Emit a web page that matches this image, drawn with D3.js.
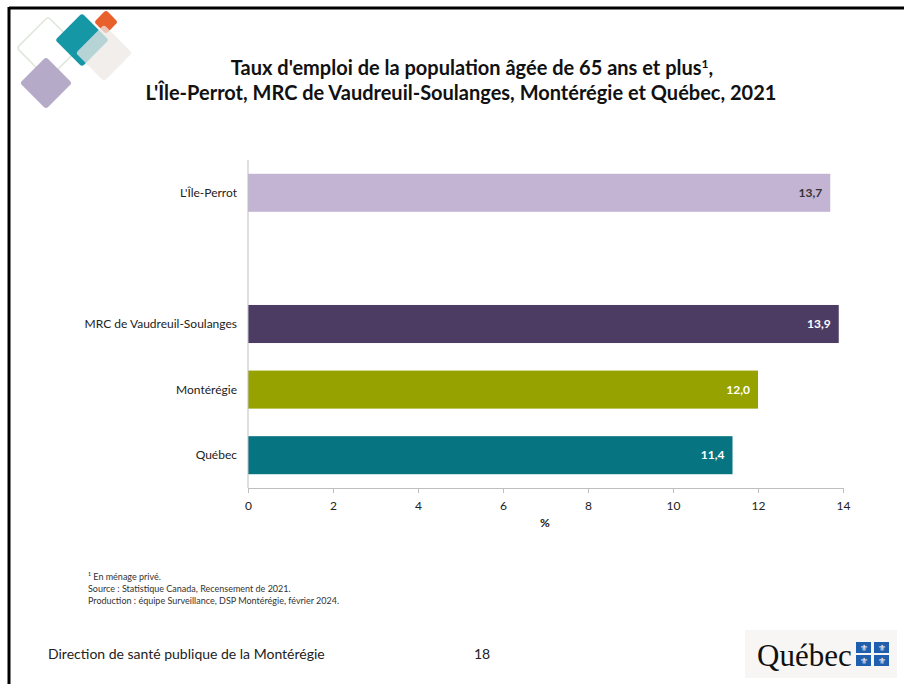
<!DOCTYPE html>
<html><head><meta charset="utf-8">
<script src="https://cdn.jsdelivr.net/npm/d3@7"></script>
<style>
body{margin:0;background:#fff;}
svg{display:block;font-family:Lato,"Open Sans",sans-serif;}
</style></head>
<body><svg id="c" width="904" height="684"></svg>
<script>
const categories = ["L'Île-Perrot", "", "MRC de Vaudreuil-Soulanges", "Montérégie", "Québec"];
const values = [13.7, null, 13.9, 12.0, 11.4];
const valueLabels = ["13,7", "", "13,9", "12,0", "11,4"];
const barColors = ["#c3b4d4", "none", "#4c3c64", "#95a200", "#077482"];
const labelColors = ["#333333", "none", "#ffffff", "#ffffff", "#ffffff"];
const xTicks = [0, 2, 4, 6, 8, 10, 12, 14];
const titleLines = ["Taux d'emploi de la population âgée de 65 ans et plus", "L'Île-Perrot, MRC de Vaudreuil-Soulanges, Montérégie et Québec, 2021"];
const footnotes = ["¹ En ménage privé.", "Source : Statistique Canada, Recensement de 2021.", "Production : équipe Surveillance, DSP Montérégie, février 2024."];

const svg = d3.select("#c");

// slide frame
svg.append("line").attr("x1",9).attr("x2",904).attr("y1",8).attr("y2",8).attr("stroke","#000").attr("stroke-width",3);
svg.append("line").attr("x1",9).attr("x2",9).attr("y1",7).attr("y2",684).attr("stroke","#000").attr("stroke-width",3);

// decorative diamonds
const deco = svg.append("g");
function diamond(cx, cy, s, fill, opacity, stroke) {
  deco.append("rect").attr("x",-s/2).attr("y",-s/2).attr("width",s).attr("height",s).attr("rx",3)
    .attr("transform",`translate(${cx},${cy}) rotate(45)`)
    .attr("fill",fill).attr("fill-opacity",opacity).attr("stroke",stroke||"none").attr("stroke-width",1.5);
}
diamond(48, 48, 44, "none", 1, "#dfe6dc");
diamond(106, 22, 17, "#e8602c", 1);
diamond(82, 40, 38, "#1697a6", 1);
diamond(104, 53, 40, "#ece8e6", 0.75);
diamond(46, 83, 37, "#b5aac8", 1);

// title
const title = svg.append("text").attr("text-anchor","middle").attr("font-weight","bold").attr("font-size",20).attr("fill","#111");
const t1 = title.append("tspan").attr("x",472).attr("y",75).text(titleLines[0]);
t1.append("tspan").attr("font-size",12).attr("dy",-7).text("1");
t1.append("tspan").attr("dy",7).text(",");
title.append("tspan").attr("x",461).attr("y",100).text(titleLines[1]);

// scales
const x = d3.scaleLinear().domain([0,14]).range([248,843]);
const y = d3.scaleBand().domain(categories.map((c,i)=>i)).range([160,488]).paddingInner(0.42).paddingOuter(0.21);

// bars
const data = categories.map((c,i)=>({c, v: values[i], lab: valueLabels[i], col: barColors[i], lc: labelColors[i], i})).filter(d=>d.v!=null);
svg.selectAll("rect.bar").data(data).enter().append("rect").attr("class","bar")
  .attr("x",x(0)).attr("y",d=>y(d.i)).attr("width",d=>x(d.v)-x(0)).attr("height",y.bandwidth()).attr("fill",d=>d.col);
svg.selectAll("text.val").data(data).enter().append("text").attr("class","val")
  .attr("x",d=>x(d.v)-8).attr("y",d=>y(d.i)+y.bandwidth()/2).attr("dy","0.35em")
  .attr("text-anchor","end").attr("font-weight","bold").attr("font-size",12).attr("fill",d=>d.lc).text(d=>d.lab);

// category labels
svg.selectAll("text.cat").data(data).enter().append("text").attr("class","cat")
  .attr("x",237).attr("y",d=>y(d.i)+y.bandwidth()/2).attr("dy","0.35em")
  .attr("text-anchor","end").attr("font-size",12).attr("fill","#222").text(d=>d.c);

// y axis line
svg.append("line").attr("x1",248).attr("x2",248).attr("y1",160).attr("y2",488).attr("stroke","#bfbfbf");

// x axis
const xAxis = svg.append("g").attr("transform","translate(0,488)").call(d3.axisBottom(x).tickValues(xTicks).tickSize(5).tickSizeOuter(0).tickFormat(d3.format("d")));
xAxis.select(".domain").attr("stroke","#bfbfbf");
xAxis.selectAll(".tick line").attr("stroke","#bfbfbf");
xAxis.selectAll(".tick text").attr("font-family","Lato,'Open Sans',sans-serif").attr("font-size",12).attr("fill","#222").attr("dy","1.2em");
svg.append("text").attr("x",545).attr("y",527).attr("text-anchor","middle").attr("font-weight","bold").attr("font-size",12).attr("fill","#222").text("%");

// footnotes
svg.selectAll("text.fn").data(footnotes).enter().append("text").attr("class","fn")
  .attr("x",88).attr("y",(d,i)=>580+i*12).attr("font-size",9).attr("fill","#333").text(d=>d);

// footer
svg.append("text").attr("x",48).attr("y",659).attr("font-size",14).attr("fill","#222").text("Direction de santé publique de la Montérégie");
svg.append("text").attr("x",474).attr("y",659).attr("font-size",14).attr("fill","#222").text("18");

// Québec logo
const lg = svg.append("g");
lg.append("rect").attr("x",745).attr("y",630).attr("width",152).attr("height",48).attr("fill","#f7f6f4");
lg.append("text").attr("x",757).attr("y",666).attr("font-family","'Liberation Serif',serif").attr("font-size",31).attr("fill","#111").text("Québec");
[[856,642],[874,642],[856,655],[874,655]].forEach(([px,py])=>{
  lg.append("rect").attr("x",px).attr("y",py).attr("width",15).attr("height",11).attr("fill","#1f5fae");
  lg.append("text").attr("x",px+7.5).attr("y",py+9).attr("text-anchor","middle").attr("font-size",9).attr("fill","#fff").text("⚜");
});
</script></body></html>
